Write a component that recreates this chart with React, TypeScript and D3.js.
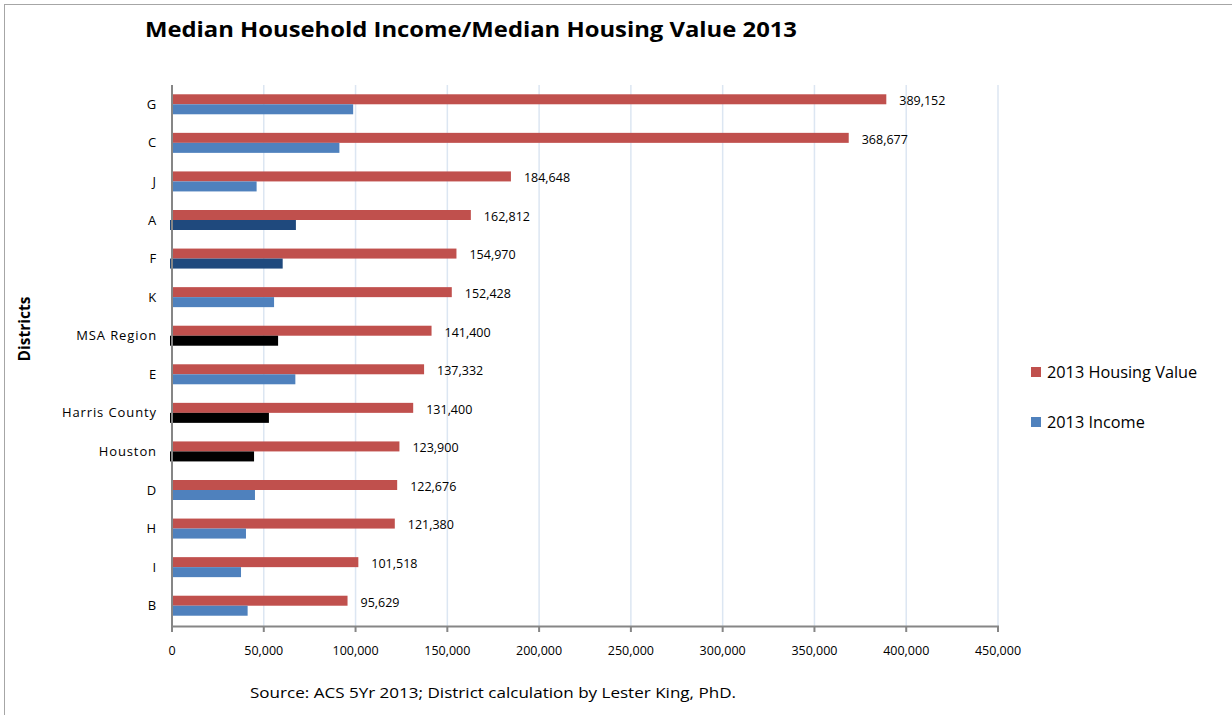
import React, { useRef, useEffect } from "react";
import * as d3 from "d3";

const categories = ["G", "C", "J", "A", "F", "K", "MSA Region", "E", "Harris County", "Houston", "D", "H", "I", "B"];
const housingValues = [389152, 368677, 184648, 162812, 154970, 152428, 141400, 137332, 131400, 123900, 122676, 121380, 101518, 95629];
const incomeValues = [98700, 91200, 46100, 67500, 60300, 55600, 57800, 67200, 52800, 44700, 45200, 40300, 37600, 41200];
// colour group of each income bar: district, highlighted district, comparison area
const incomeGroups = ["d", "d", "d", "h", "h", "d", "r", "d", "r", "r", "d", "d", "d", "d"];
const xTicks = [0, 50000, 100000, 150000, 200000, 250000, 300000, 350000, 400000, 450000];
const seriesNames = ["2013 Housing Value", "2013 Income"];

const RED = "#C0504D";
const BLUE = "#4F81BD";
const groupColor: Record<string, string> = { d: BLUE, h: "#1F497D", r: "#000000" };
const FONT = "'Open Sans', 'Noto Sans', sans-serif";

const App = () => {
    const svgRef = useRef<SVGSVGElement>(null);

    useEffect(() => {
        const svg = d3.select(svgRef.current);
        svg.selectAll("*").remove();

        const x = d3.scaleLinear().domain([0, 450000]).range([172, 998]);
        const y = d3.scaleBand().domain(categories).range([85, 625]);
        const fmt = d3.format(",");
        const barH = 10;

        // frame
        svg.append("rect").attr("x", 4.5).attr("y", 4.5).attr("width", 1240).attr("height", 720)
            .attr("fill", "white").attr("stroke", "#a6a6a6");

        // gridlines
        svg.append("g").selectAll("line").data(xTicks.slice(1)).enter().append("line")
            .attr("x1", (d) => x(d)).attr("x2", (d) => x(d))
            .attr("y1", 85).attr("y2", 626)
            .attr("stroke", "#dce6f2").attr("stroke-width", 1.5);

        const rows = svg.append("g").selectAll("g").data(categories).enter().append("g");

        rows.append("rect")
            .attr("x", x(0))
            .attr("y", (d) => (y(d) as number) + y.bandwidth() / 2 - barH)
            .attr("width", (d, i) => x(housingValues[i]) - x(0))
            .attr("height", barH)
            .attr("fill", RED);

        rows.append("rect")
            .attr("x", (d, i) => (incomeGroups[i] === "d" ? x(0) : x(0) - 2))
            .attr("y", (d) => (y(d) as number) + y.bandwidth() / 2)
            .attr("width", (d, i) => x(incomeValues[i]) - x(0) + (incomeGroups[i] === "d" ? 0 : 2))
            .attr("height", barH)
            .attr("fill", (d, i) => groupColor[incomeGroups[i]]);

        rows.append("text")
            .attr("x", (d, i) => x(housingValues[i]) + 13)
            .attr("y", (d) => (y(d) as number) + y.bandwidth() / 2 - barH / 2 + 1.5)
            .attr("dy", "0.35em")
            .attr("font-family", FONT).attr("font-size", 12.5).attr("fill", "#000")
            .text((d, i) => fmt(housingValues[i]));

        rows.append("text")
            .attr("x", 157)
            .attr("y", (d) => (y(d) as number) + y.bandwidth() / 2)
            .attr("dy", "0.35em")
            .attr("text-anchor", "end")
            .attr("font-family", FONT).attr("font-size", 13).attr("letter-spacing", 0.9).attr("fill", "#000")
            .text((d) => d);

        // axes
        svg.append("line").attr("x1", x(0)).attr("x2", x(0)).attr("y1", 85).attr("y2", 627)
            .attr("stroke", "#868686").attr("stroke-width", 2);
        svg.append("line").attr("x1", x(0) - 1).attr("x2", x(450000) + 1).attr("y1", 626.5).attr("y2", 626.5)
            .attr("stroke", "#868686").attr("stroke-width", 2);
        const ticks = svg.append("g").selectAll("g").data(xTicks).enter().append("g");
        ticks.append("line")
            .attr("x1", (d) => x(d)).attr("x2", (d) => x(d))
            .attr("y1", 626).attr("y2", 632)
            .attr("stroke", "#868686").attr("stroke-width", 2);
        ticks.append("text")
            .attr("x", (d) => x(d)).attr("y", 651)
            .attr("dy", "0.35em").attr("text-anchor", "middle")
            .attr("font-family", FONT).attr("font-size", 12.5).attr("fill", "#000")
            .text((d) => fmt(d));

        // titles
        svg.append("text").attr("x", 145).attr("y", 37)
            .attr("font-family", FONT).attr("font-weight", "bold").attr("font-size", 22)
            .attr("textLength", 652).attr("lengthAdjust", "spacingAndGlyphs")
            .text("Median Household Income/Median Housing Value 2013");

        svg.append("text").attr("transform", "translate(30,329) rotate(-90)")
            .attr("text-anchor", "middle")
            .attr("font-family", FONT).attr("font-weight", "bold").attr("font-size", 15.5)
            .text("Districts");

        svg.append("text").attr("x", 250).attr("y", 698)
            .attr("font-family", FONT).attr("font-size", 15)
            .attr("textLength", 486).attr("lengthAdjust", "spacingAndGlyphs")
            .text("Source: ACS 5Yr 2013; District calculation by Lester King, PhD.");

        // legend
        const legend = svg.append("g").selectAll("g").data(seriesNames).enter().append("g")
            .attr("transform", (d, i) => `translate(1031, ${367 + i * 50})`);
        legend.append("rect").attr("width", 10).attr("height", 10)
            .attr("fill", (d, i) => (i === 0 ? RED : BLUE));
        legend.append("text").attr("x", 16).attr("y", 5).attr("dy", "0.35em")
            .attr("font-family", FONT).attr("font-size", 16.3).attr("fill", "#000")
            .text((d) => d);
    }, []);

    return (
        <svg ref={svgRef} width={1232} height={715}
            style={{ position: "absolute", left: 0, top: 0, display: "block" }} />
    );
};

export default App;
